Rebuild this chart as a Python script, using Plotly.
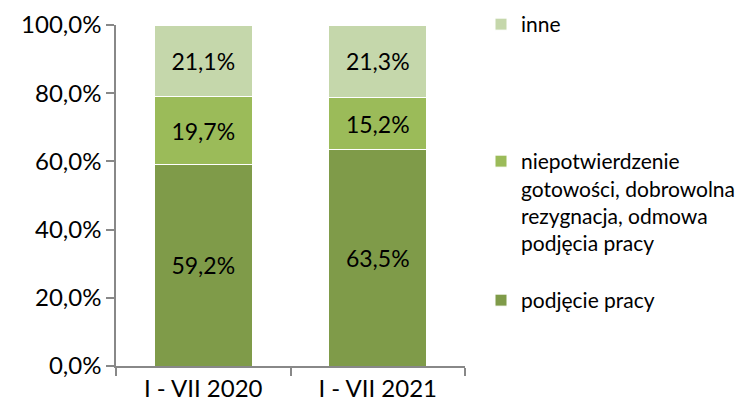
import plotly.graph_objects as go

categories = ["I - VII 2020", "I - VII 2021"]
podjecie = [59.2, 63.5]
niepotw = [19.7, 15.2]
inne = [21.1, 21.3]
y_ticks = [0, 20, 40, 60, 80, 100]

names = ["podjęcie pracy",
         "niepotwierdzenie<br>gotowości, dobrowolna<br>rezygnacja, odmowa<br>podjęcia pracy",
         "inne"]
colors = ["#7F9B49", "#9BBB59", "#C5D7AB"]
FONT = "Lato"

fig = go.Figure()
series = [podjecie, niepotw, inne]
legends = ["legend4", "legend3", "legend2"]
for vals, name, col, lg in zip(series, names, colors, legends):
    fig.add_trace(go.Bar(
        x=categories, y=vals, name=name, legend=lg, showlegend=True,
        marker=dict(color=col, line=dict(color="white", width=1)),
        text=[f"{v:.1f}".replace(".", ",") + "%" for v in vals],
        textposition="inside", insidetextanchor="middle",
        textfont=dict(family=FONT, size=23, color="black"),
        width=0.56,
    ))

W, H = 745, 412
leg_common = dict(xref="container", yref="container", xanchor="left", yanchor="top",
                  font=dict(family=FONT, size=21, color="black"),
                  bgcolor="rgba(0,0,0,0)", valign="top", itemclick=False)
fig.update_layout(
    width=W, height=H, barmode="stack", showlegend=True,
    plot_bgcolor="white", paper_bgcolor="white",
    margin=dict(l=116, r=280, t=25, b=46, autoexpand=False),
    separators=", ",
    uniformtext=dict(mode="show", minsize=10),
    legend2=dict(x=481 / W, y=1 - 4 / H, **leg_common),
    legend3=dict(x=481 / W, y=1 - 141 / H, **leg_common),
    legend4=dict(x=481 / W, y=1 - 280 / H, **leg_common),
    xaxis=dict(showline=True, linecolor="#888888", linewidth=1.5, automargin=False,
               ticks="outside", tickson="boundaries", ticklen=8, tickcolor="#888888",
               tickwidth=1.5,
               tickfont=dict(family=FONT, size=24, color="black")),
    yaxis=dict(range=[0, 100], tickvals=y_ticks, automargin=False,
               ticktext=[f"{v:.1f}".replace(".", ",") + "%" for v in y_ticks],
               showgrid=False, zeroline=False, showline=True, linecolor="#888888",
               linewidth=1.5, ticks="outside", ticklen=8, tickcolor="#888888", tickwidth=1.5,
               tickfont=dict(family=FONT, size=24, color="black")),
)
fig.write_html("out.html", config={"displayModeBar": False},
               post_script="document.body.style.margin='0';")
